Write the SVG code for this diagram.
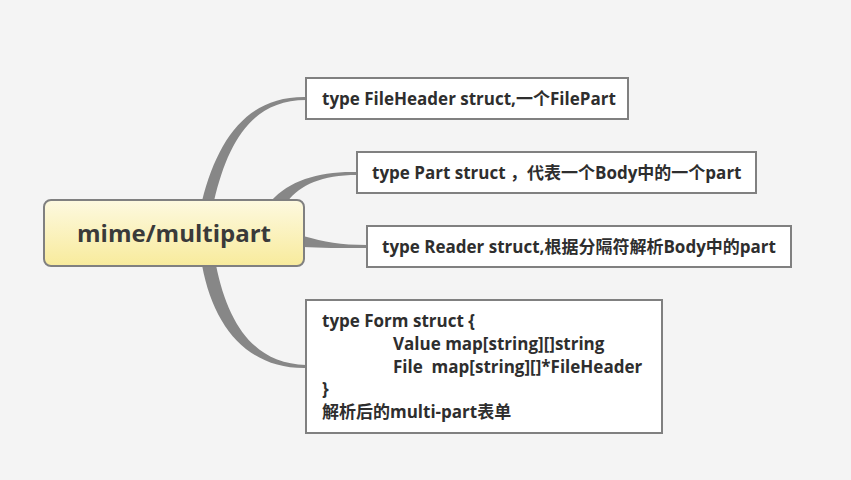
<svg xmlns="http://www.w3.org/2000/svg" width="851" height="480" viewBox="0 0 851 480">
<defs>
<linearGradient id="cg" x1="0" y1="0" x2="0" y2="1">
<stop offset="0" stop-color="#fdf9e0"/>
<stop offset="1" stop-color="#f8eb9c"/>
</linearGradient>
</defs>
<style>
.br{fill:#878787;stroke:none}
.box{fill:#ffffff;stroke:#808080;stroke-width:2}
.t{font-family:"Open Sans","Noto Sans CJK SC",sans-serif;font-weight:bold;font-size:17px;fill:#2e2e2e}
.ct{font-family:"Open Sans","Noto Sans CJK SC",sans-serif;font-weight:bold;font-size:24px;fill:#3a3a3a}
</style>
<rect x="0" y="0" width="851" height="480" fill="#f4f4f4"/>
<g id="connectors">
<path class="br" d="M202,201 C218,138 248,96 306,97 L306,100 C252,100 228,142 214,201 Z"/>
<path class="br" d="M271,201 C290,180 320,171 357,172 L357,175 C322,175 300,185 288,201 Z"/>
<path class="br" d="M303,236 C325,242 340,245 367,245 L367,248 C340,248 320,248 303,247 Z"/>
<path class="br" d="M202,265 C214,330 250,369 306,368 L306,365 C255,364 228,325 216,265 Z"/>
</g>
<g id="center">
<rect x="44" y="200" width="260" height="66" rx="7" fill="url(#cg)" stroke="#808080" stroke-width="2"/>
<text class="ct" x="174" y="242" text-anchor="middle">mime/multipart</text>
</g>
<g id="n1">
<rect class="box" x="306" y="78" width="322" height="41"/>
<text class="t" x="322" y="105">type FileHeader struct,一个FilePart</text>
</g>
<g id="n2">
<rect class="box" x="357" y="152" width="399" height="41"/>
<text class="t" x="372" y="179">type Part struct ，代表一个Body中的一个part</text>
</g>
<g id="n3">
<rect class="box" x="367" y="226" width="424" height="41"/>
<text class="t" x="382" y="253">type Reader struct,根据分隔符解析Body中的part</text>
</g>
<g id="n4">
<rect class="box" x="306" y="300" width="356" height="133"/>
<text class="t" x="322" y="327">type Form struct {</text>
<text class="t" x="393" y="350">Value map[string][]string</text>
<text class="t" x="393" y="373" xml:space="preserve">File  map[string][]*FileHeader</text>
<text class="t" x="322" y="395">}</text>
<text class="t" x="322" y="418">解析后的multi-part表单</text>
</g>
</svg>
